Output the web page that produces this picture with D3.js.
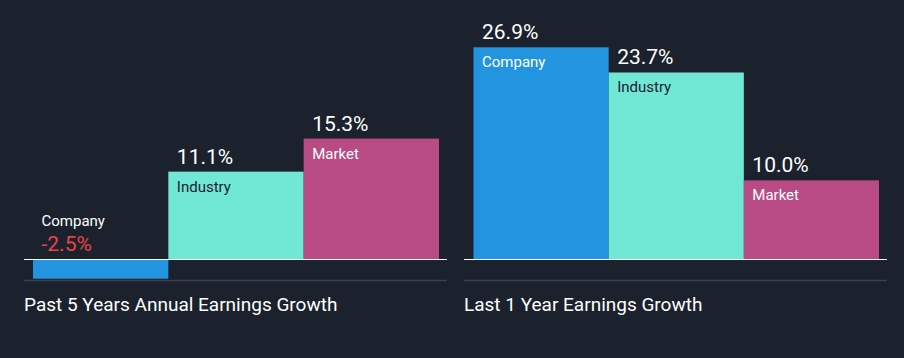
<!DOCTYPE html>
<html><head><meta charset="utf-8">
<script src="https://cdn.jsdelivr.net/npm/d3@7"></script>
<style>
html,body{margin:0;padding:0;background:#1b222d;}
svg{display:block;font-family:Roboto, "Noto Sans", sans-serif;}
</style></head>
<body>
<svg id="chart" width="904" height="358"></svg>
<script>
const categories = ["Company", "Industry", "Market"];
const pastFiveYears = [-2.5, 11.1, 15.3];
const lastOneYear = [26.9, 23.7, 10.0];
const panelTitles = ["Past 5 Years Annual Earnings Growth", "Last 1 Year Earnings Growth"];
const barColors = ["#2394df", "#71e7d6", "#b84a84"];
const labelColors = ["#ffffff", "#1b222d", "#ffffff"];

const svg = d3.select("#chart");
svg.append("rect").attr("width", 904).attr("height", 358).attr("fill", "#1b222d");

const y = d3.scaleLinear().domain([-2.5, 26.9]).range([278.7, 47.3]);

const panels = [
  {values: pastFiveYears, title: panelTitles[0], x0: 24, x1: 447, b0: 33, b1: 439},
  {values: lastOneYear, title: panelTitles[1], x0: 464, x1: 887, b0: 473.5, b1: 879}
];

panels.forEach(p => {
  const g = svg.append("g");
  const x = d3.scaleBand().domain(categories).range([p.b0, p.b1]).paddingInner(0).paddingOuter(0);
  const data = categories.map((c, i) => ({c, v: p.values[i], i}));

  g.selectAll("rect.bar").data(data).enter().append("rect")
    .attr("class", "bar")
    .attr("x", d => x(d.c))
    .attr("width", x.bandwidth())
    .attr("y", d => Math.min(y(d.v), y(0)))
    .attr("height", d => Math.abs(y(d.v) - y(0)))
    .attr("fill", d => barColors[d.i]);

  // baseline
  g.append("line").attr("x1", p.x0).attr("x2", p.x1)
    .attr("y1", y(0) + 0.5).attr("y2", y(0) + 0.5)
    .attr("stroke", "#ffffff").attr("stroke-width", 1);
  // bottom grey line
  g.append("line").attr("x1", p.x0).attr("x2", p.x1)
    .attr("y1", 280.5).attr("y2", 280.5)
    .attr("stroke", "#3a414b").attr("stroke-width", 1.5);

  data.forEach(d => {
    const tx = x(d.c) + 8.5;
    if (d.v >= 0) {
      const top = y(d.v);
      g.append("text").attr("x", tx).attr("y", top - 8)
        .attr("fill", "#ffffff").attr("font-size", 21).text(d.v.toFixed(1) + "%");
      g.append("text").attr("x", tx).attr("y", top + 20)
        .attr("fill", labelColors[d.i]).attr("font-size", 15).attr("font-weight", 400).text(d.c);
    } else {
      const base = y(0);
      g.append("text").attr("x", tx).attr("y", base - 8)
        .attr("fill", "#e84545").attr("font-size", 21).text(d.v.toFixed(1) + "%");
      g.append("text").attr("x", tx).attr("y", base - 33.5)
        .attr("fill", "#ffffff").attr("font-size", 15).attr("font-weight", 400).text(d.c);
    }
  });

  g.append("text").attr("x", p.x0).attr("y", 310.5)
    .attr("fill", "#ffffff").attr("font-size", 19).attr("font-weight", 400).text(p.title);
});
</script>
</body></html>
